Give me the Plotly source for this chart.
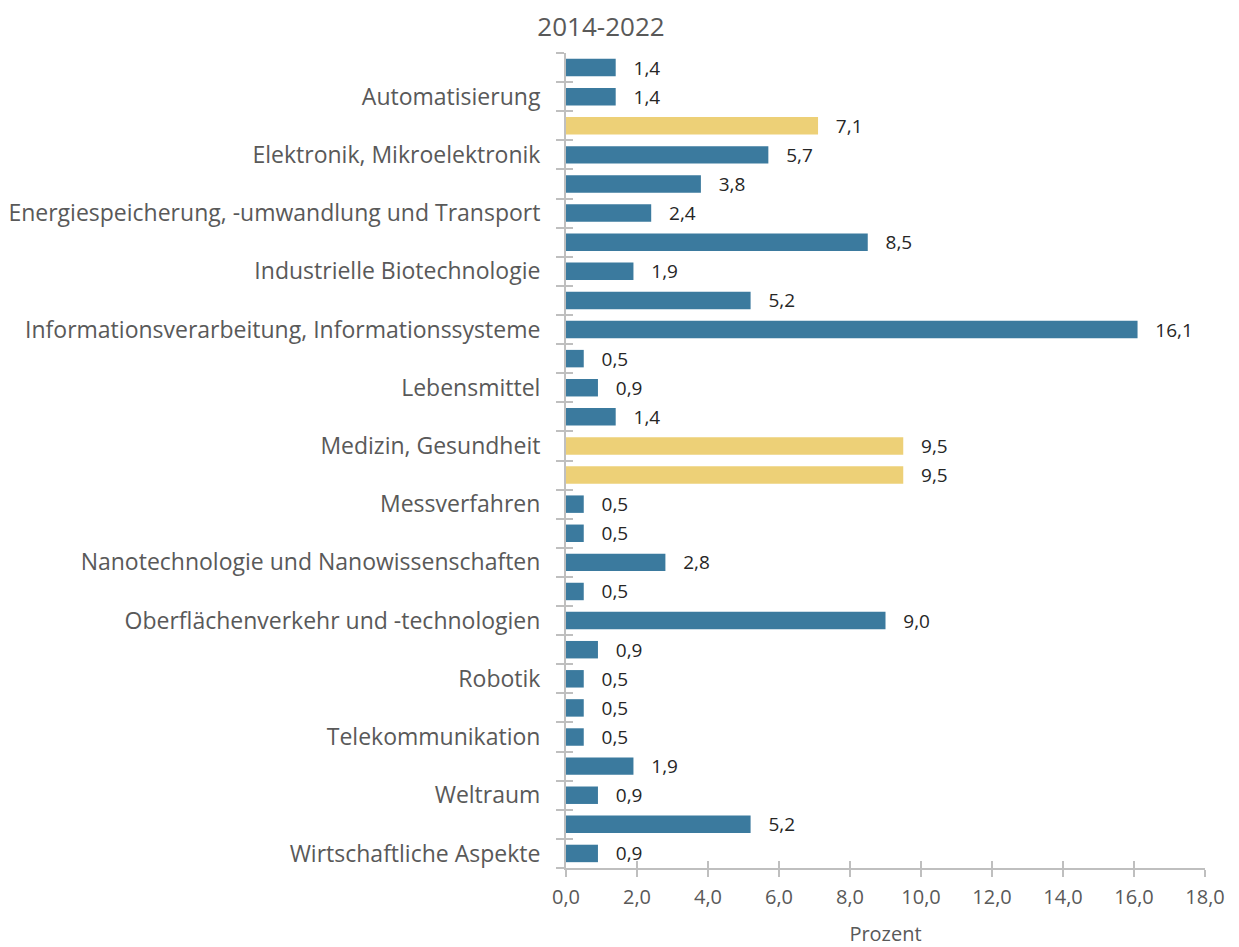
import plotly.graph_objects as go

# 28 bars from top to bottom; only every other category is labelled in the original
labels = [
    "", "Automatisierung",
    "", "Elektronik, Mikroelektronik",
    "", "Energiespeicherung, -umwandlung und Transport",
    "", "Industrielle Biotechnologie",
    "", "Informationsverarbeitung, Informationssysteme",
    "", "Lebensmittel",
    "", "Medizin, Gesundheit",
    "", "Messverfahren",
    "", "Nanotechnologie und Nanowissenschaften",
    "", "Oberflächenverkehr und -technologien",
    "", "Robotik",
    "", "Telekommunikation",
    "", "Weltraum",
    "", "Wirtschaftliche Aspekte",
]
values = [1.4, 1.4, 7.1, 5.7, 3.8, 2.4, 8.5, 1.9, 5.2, 16.1, 0.5, 0.9, 1.4, 9.5,
          9.5, 0.5, 0.5, 2.8, 0.5, 9.0, 0.9, 0.5, 0.5, 0.5, 1.9, 0.9, 5.2, 0.9]
highlight = [False, False, True, False, False, False, False, False, False, False,
             False, False, False, True, True, False, False, False, False, False,
             False, False, False, False, False, False, False, False]
x_ticks = [0, 2, 4, 6, 8, 10, 12, 14, 16, 18]

BLUE = "#3B7A9E"
YELLOW = "#EDD077"
GRAY_TXT = "#595959"
AXIS = "#BFBFBF"
FONT = "Open Sans"

n = len(values)
pos = list(range(n))
label_pos = [i for i, l in enumerate(labels) if l]
label_txt = [l for l in labels if l]
bounds = [i - 0.5 for i in range(n + 1)]

W, H = 1231, 939  # page body has an 8px margin

fig = go.Figure()
fig.add_trace(go.Bar(
    x=values, y=pos, orientation="h",
    marker=dict(color=[YELLOW if h else BLUE for h in highlight], line=dict(width=0)),
    texttemplate="   %{x:.1f}", textposition="outside", constraintext="none",
    textfont=dict(family=FONT, size=19, color="#262626"),
    cliponaxis=False, hoverinfo="skip",
))
# overlay trace for inner halves of crossing ticks
fig.add_trace(go.Scatter(x=[None], y=[None], xaxis="x2", yaxis="y2", showlegend=False))

fig.update_layout(
    width=W, height=H,
    paper_bgcolor="white", plot_bgcolor="white",
    margin=dict(l=558, r=34, t=45, b=79, autoexpand=False),
    separators=", ",
    showlegend=False,
    bargap=0.4,
    font=dict(family=FONT, color=GRAY_TXT),
    title=dict(text="2014-2022", x=593 / W, xref="container", xanchor="center",
               y=1 - 19 / H, yref="container", yanchor="middle",
               font=dict(family=FONT, size=26, color=GRAY_TXT)),
    xaxis=dict(range=[0, 18], tickvals=x_ticks, tickformat=".1f",
               showgrid=False, zeroline=False,
               showline=True, linecolor=AXIS, linewidth=2,
               ticks="outside", ticklen=7, tickwidth=2, tickcolor=AXIS,
               ticklabelstandoff=3,
               tickfont=dict(family=FONT, size=20, color=GRAY_TXT),
               title=dict(text="Prozent", standoff=18,
                          font=dict(family=FONT, size=20, color=GRAY_TXT))),
    xaxis2=dict(range=[0, 18], overlaying="x", anchor="y", side="bottom",
                tickvals=x_ticks, showticklabels=False, showgrid=False,
                zeroline=False, showline=False,
                ticks="inside", ticklen=7, tickwidth=2, tickcolor=AXIS),
    yaxis=dict(range=[n - 0.5, -0.5], tickvals=label_pos, ticktext=label_txt,
               showgrid=False, zeroline=False,
               showline=True, linecolor=AXIS, linewidth=2,
               ticks="", ticklabelstandoff=19,
               tickfont=dict(family=FONT, size=23, color=GRAY_TXT),
               minor=dict(tickmode="array", tickvals=bounds, ticks="outside",
                          ticklen=8, tickwidth=2, tickcolor=AXIS, showgrid=False)),
    yaxis2=dict(range=[n - 0.5, -0.5], overlaying="y", anchor="x", side="left",
                tickvals=bounds, showticklabels=False, showgrid=False,
                zeroline=False, showline=False,
                ticks="inside", ticklen=7, tickwidth=2, tickcolor=AXIS),
)

fig.write_html("out.html")
